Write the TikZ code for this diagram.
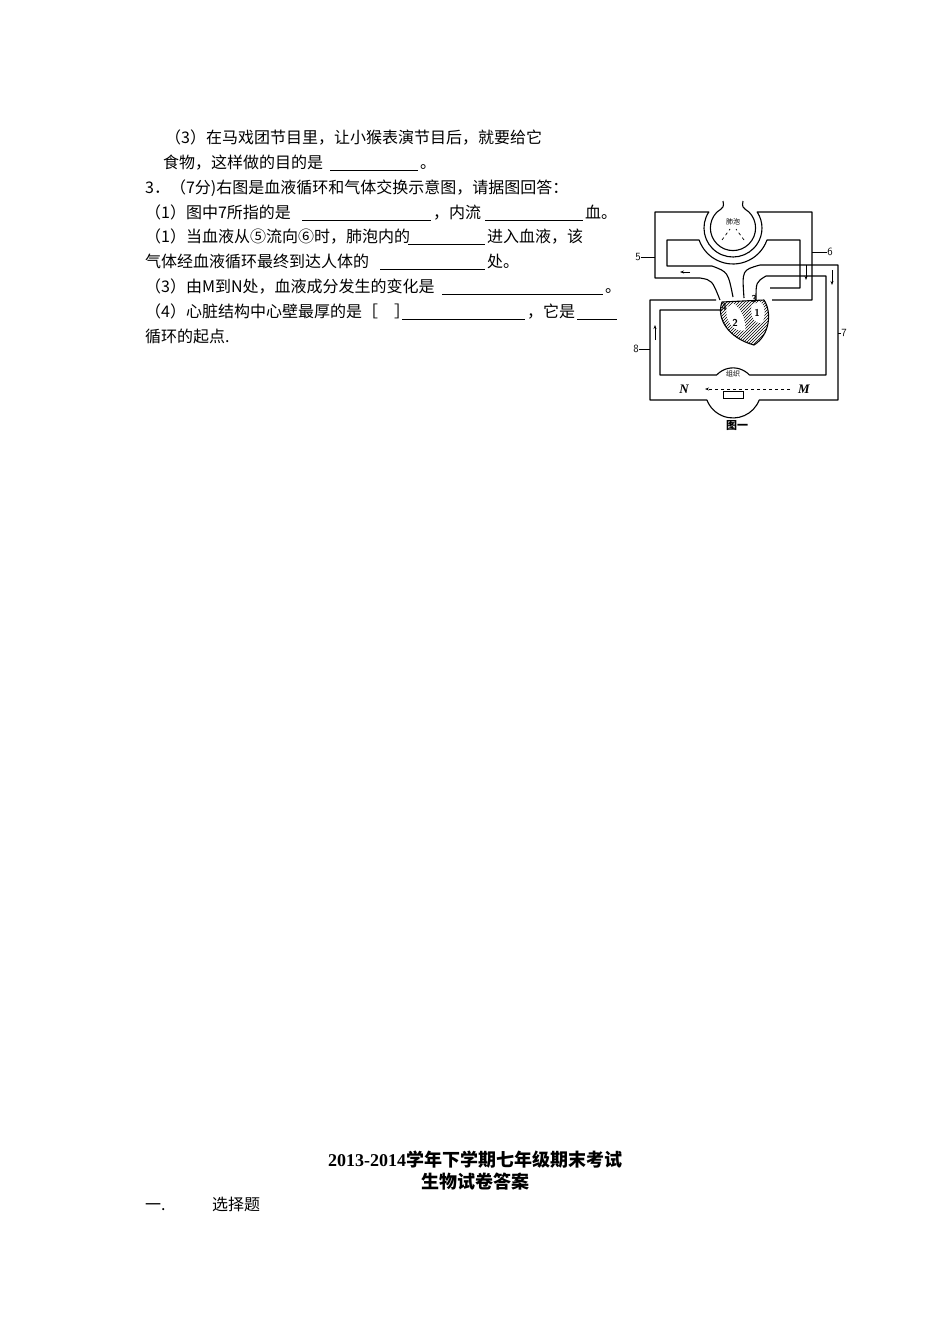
\documentclass[tikz,border=0pt]{standalone}
\usepackage{fontspec}
\setmainfont{Liberation Serif}
\newfontfamily\cjk{Noto Sans CJK SC}
\usetikzlibrary{patterns,arrows.meta}
\begin{document}
\begin{tikzpicture}[x=1pt,y=-1pt,
  txt/.style={anchor=base west,inner sep=0pt,font=\cjk\fontsize{16}{18}\selectfont},
  ul/.style={line width=0.7pt},
  pipe/.style={line width=1.1pt,line join=round},
  lab/.style={inner sep=0pt,font=\fontsize{10}{12}\selectfont\sffamily\bfseries}]
\useasboundingbox (0,0) rectangle (950,1344);
% ---- text ----
\node[txt] (t1) at (165,143) {（3）在马戏团节目里，让小猴表演节目后，就要给它};
\node[txt] (t2) at (163,168) {食物，这样做的目的是};
\draw[ul] (330,170) -- (418,170);
\node[txt] (t2b) at (420,168) {。};
\node[txt] (t3) at (145,193) {3．（7分)右图是血液循环和气体交换示意图，请据图回答：};
\node[txt] (t4) at (145,218) {（1）图中7所指的是};
\draw[ul] (302,220) -- (431,220);
\node[txt] (t4b) at (433,218) {，内流};
\draw[ul] (485,220) -- (583,220);
\node[txt] (t4c) at (585,218) {血。};
\node[txt] (t5) at (145,242) {（1）当血液从⑤流向⑥时，肺泡内的};
\draw[ul] (408,244) -- (485,244);
\node[txt] (t5b) at (487,242) {进入血液，该};
\node[txt] (t6) at (145,267) {气体经血液循环最终到达人体的};
\draw[ul] (380,269) -- (485,269);
\node[txt] (t6b) at (487,267) {处。};
\node[txt] (t7) at (145,292) {（3）由M到N处，血液成分发生的变化是};
\draw[ul] (442,294) -- (603,294);
\node[txt] (t7b) at (605,292) {。};
\node[txt] (t8) at (145,317) {（4）心脏结构中心壁最厚的是［\quad ］};
\draw[ul] (402,319) -- (525,319);
\node[txt] (t8b) at (527,317) {，它是};
\draw[ul] (577,319) -- (617,319);
\node[txt] (t9) at (145,342) {循环的起点.};
% ---- bottom ----
\node[anchor=base,inner sep=0pt,font=\fontsize{18}{20}\selectfont\bfseries] (h1) at (475,1166) {2013-2014{\cjk 学年下学期七年级期末考试}};
\node[anchor=base,inner sep=0pt,font=\cjk\fontsize{18}{20}\selectfont\bfseries] (h2) at (475,1188) {生物试卷答案};
\node[txt] (s1) at (145,1210) {一.};
\node[txt] (s2) at (212,1210) {选择题};
% ---- diagram ----
% alveolus
\draw[pipe] (723,201) .. controls (724,207) .. (717,212) arc[start angle=225,end angle=-45,radius=22.6] .. controls (742,207) .. (743,201);
\node[inner sep=0pt,font=\cjk\fontsize{7}{8}\selectfont] (alv) at (733,222) {肺泡};
\draw[dashed,line width=0.7pt] (722,240) -- (730,229) (744,240) -- (736,229);
% pulmonary outer
\draw[pipe] (720,300) .. controls (712,280) .. (700,278) -- (655,278) -- (655,212) -- (708.8,212) arc[start angle=213.5,end angle=-33.5,radius=29] -- (812,212) -- (812,300) -- (772,300);
% pulmonary inner
\draw[pipe] (733,297) .. controls (728,272) .. (712,266) -- (667,266) -- (667,240) -- (699.1,240) arc[start angle=160.5,end angle=19.5,radius=36] -- (800,240) -- (800,288) -- (770,288);
% aorta arch / systemic
\draw[pipe] (744,298) .. controls (742,270) .. (760,265) -- (838,265) -- (838,400) -- (759.2,400) arc[start angle=21,end angle=159,radius=28] -- (650,400) -- (650,300) -- (716,300);
\draw[pipe] (756,300) .. controls (756,282) .. (766,276) -- (826,276) -- (826,375) -- (749.4,375) arc[start angle=-43,end angle=-137,radius=22.4] -- (660,375) -- (660,310) -- (722,310);
% heart
\draw[pipe,pattern=north east lines] (722,302) .. controls (716,318) and (728,338) .. (754,345) .. controls (770,335) and (772,312) .. (764,300) -- cycle;
\fill[white,draw,line width=0.8pt] (727,308) .. controls (725,322) and (735,332) .. (745,330) .. controls (745,318) and (740,308) .. (733,304) -- cycle;
\fill[white,draw,line width=0.8pt] (752,305) .. controls (750,315) and (755,325) .. (762,322) .. controls (766,315) and (764,305) .. (760,302) -- cycle;
\node[lab] (n4) at (724,307) {4};
\node[lab] (n3) at (754,299) {3};
\node[lab] (n2) at (735,323) {2};
\node[lab] (n1) at (757,313) {1};
% tissue
\node[inner sep=0pt,font=\cjk\fontsize{7}{8}\selectfont] (tis) at (733,374) {组织};
\draw[line width=0.8pt] (723,391) rectangle (743,398);
\coordinate (dm) at (790,389);
\coordinate (dn) at (705,389);
\draw[dashed,line width=0.8pt,-{Stealth[length=4pt]}] (dm) -- (dn);
% labels
\node[lab,font=\fontsize{11}{12}\selectfont\sffamily] (l5) at (638,257) {5};
\draw[line width=0.7pt] (l5.east) -- (655,257);
\node[lab,font=\fontsize{11}{12}\selectfont\sffamily] (l6) at (830,252) {6};
\draw[line width=0.7pt] (l6.west) -- (812,252);
\node[lab,font=\fontsize{11}{12}\selectfont\sffamily] (l7) at (844,333) {7};
\draw[line width=0.7pt] (l7.west) -- (838,333);
\node[lab,font=\fontsize{11}{12}\selectfont\sffamily] (l8) at (636,349) {8};
\draw[line width=0.7pt] (l8.east) -- (650,349);
\node[font=\itshape\bfseries\fontsize{13}{14}\selectfont] (N) at (684,389) {N};
\node[font=\itshape\bfseries\fontsize{13}{14}\selectfont] (M) at (804,389) {M};
\node[inner sep=0pt,font=\cjk\bfseries\fontsize{11}{12}\selectfont] (fig) at (737,426) {图一};
% small arrows
\draw[-{Stealth[length=4pt]},line width=0.6pt] (806,265) -- (806,280);
\draw[-{Stealth[length=4pt]},line width=0.6pt] (832,270) -- (832,285);
\draw[-{Stealth[length=4pt]},line width=0.6pt] (655,340) -- (655,325);
\draw[-{Stealth[length=4pt]},line width=0.6pt] (690,272) -- (680,272);
\end{tikzpicture}
\end{document}
